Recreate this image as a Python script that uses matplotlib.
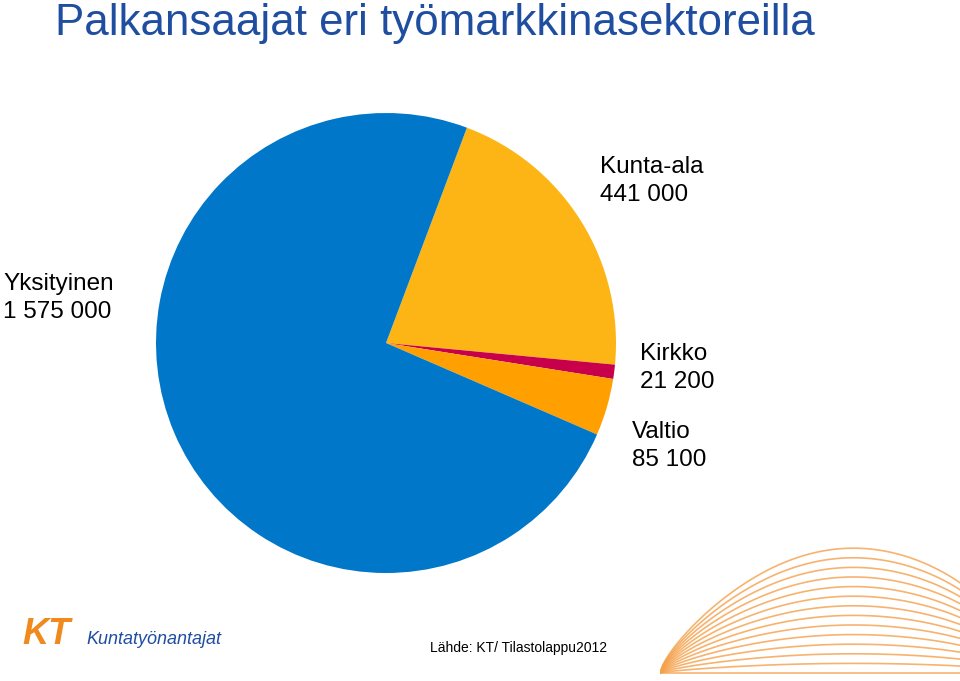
import matplotlib
matplotlib.use("Agg")
import matplotlib.pyplot as plt
import numpy as np

labels = ["Kunta-ala", "Kirkko", "Valtio", "Yksityinen"]
values = [441000, 21200, 85100, 1575000]
value_text = ["441 000", "21 200", "85 100", "1 575 000"]
colors = ["#FDB515", "#C8004B", "#FFA000", "#0077C8"]

fig = plt.figure(figsize=(9.6, 6.81), dpi=100)
W, H = 960, 681
cx, cy, r = 386, 343, 230
ax = fig.add_axes([(cx - r) / W, 1 - (cy + r) / H, 2 * r / W, 2 * r / H])
ax.pie(values, colors=colors, startangle=69.4, counterclock=False,
       wedgeprops=dict(linewidth=0))
ax.set_xlim(-1, 1); ax.set_ylim(-1, 1)
ax.set_aspect("equal")

fig.text(55 / W, 1 - 23 / H, "Palkansaajat eri työmarkkinasektoreilla",
         color="#1F4EA1", fontsize=31.6, va="center", ha="left", family="Liberation Sans")
pos = {"Kunta-ala": (600, 181), "Kirkko": (640, 368), "Valtio": (632, 446), "Yksityinen": (3, 298)}
for lab, vt in zip(labels, value_text):
    x, y = pos[lab]
    fig.text(x / W, 1 - y / H, f"{lab}\n{vt}", fontsize=17.5, va="center", ha="left",
             family="Liberation Sans", linespacing=1.35)

fig.text(430 / W, 1 - 648 / H, "Lähde: KT/ Tilastolappu2012", fontsize=10,
         va="center", ha="left", family="Liberation Sans")
fig.text(22 / W, 1 - 635 / H, "KT", fontsize=26, color="#F08A1C", fontstyle="italic",
         fontweight="bold", va="center", family="Liberation Sans")
fig.text(86 / W, 1 - 640 / H, "Kuntatyönantajat", fontsize=13, color="#1F4EA1",
         fontstyle="italic", va="center", family="Liberation Sans")

dax = fig.add_axes([660 / W, 0, 300 / W, 160 / H])
dax.set_xlim(0, 1); dax.set_ylim(0, 1); dax.axis("off")
t = np.linspace(0, 1, 100)
for k in range(14):
    a = k / 13
    y = 0.05 + a * 0.6 * np.sin(np.pi * t * 0.9) ** 0.7 + 0.3 * t * a
    dax.plot(t, y, color="#F5A04A", lw=1.2, alpha=0.8)

fig.savefig("out.png", dpi=100)
